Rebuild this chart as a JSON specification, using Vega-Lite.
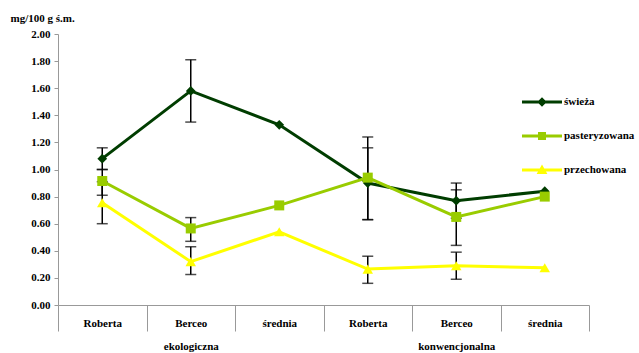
{
  "$schema": "https://vega.github.io/schema/vega-lite/v6.json",
  "width": 531,
  "height": 271,
  "autosize": "none",
  "padding": {"left": 58, "top": 34, "right": 50, "bottom": 48},
  "background": "white",
  "config": {
    "view": {"stroke": null},
    "font": "Liberation Serif",
    "axis": {
      "labelFont": "Liberation Serif",
      "labelFontWeight": "bold",
      "labelFontSize": 11,
      "labelColor": "black",
      "titleFont": "Liberation Serif",
      "titleFontWeight": "bold",
      "titleFontSize": 11,
      "titleColor": "black",
      "domainColor": "#999999",
      "tickColor": "#999999",
      "grid": false
    },
    "legend": {
      "labelFont": "Liberation Serif",
      "labelFontWeight": "bold",
      "labelFontSize": 11,
      "labelColor": "black"
    }
  },
  "data": {
    "values": [
      {"kat": "ekologiczna|Roberta", "seria": "świeża", "v": 1.08, "lo": 1.00, "hi": 1.16},
      {"kat": "ekologiczna|Berceo", "seria": "świeża", "v": 1.58, "lo": 1.35, "hi": 1.81},
      {"kat": "ekologiczna|średnia", "seria": "świeża", "v": 1.33},
      {"kat": "konwencjonalna|Roberta", "seria": "świeża", "v": 0.90, "lo": 0.63, "hi": 1.16},
      {"kat": "konwencjonalna|Berceo", "seria": "świeża", "v": 0.77, "lo": 0.64, "hi": 0.90},
      {"kat": "konwencjonalna|średnia", "seria": "świeża", "v": 0.84},
      {"kat": "ekologiczna|Roberta", "seria": "pasteryzowana", "v": 0.915, "lo": 0.81, "hi": 1.00},
      {"kat": "ekologiczna|Berceo", "seria": "pasteryzowana", "v": 0.565, "lo": 0.47, "hi": 0.645},
      {"kat": "ekologiczna|średnia", "seria": "pasteryzowana", "v": 0.735},
      {"kat": "konwencjonalna|Roberta", "seria": "pasteryzowana", "v": 0.94, "lo": 0.63, "hi": 1.24},
      {"kat": "konwencjonalna|Berceo", "seria": "pasteryzowana", "v": 0.65, "lo": 0.44, "hi": 0.85},
      {"kat": "konwencjonalna|średnia", "seria": "pasteryzowana", "v": 0.80},
      {"kat": "ekologiczna|Roberta", "seria": "przechowana", "v": 0.755, "lo": 0.60, "hi": 0.91},
      {"kat": "ekologiczna|Berceo", "seria": "przechowana", "v": 0.32, "lo": 0.225, "hi": 0.43},
      {"kat": "ekologiczna|średnia", "seria": "przechowana", "v": 0.54},
      {"kat": "konwencjonalna|Roberta", "seria": "przechowana", "v": 0.265, "lo": 0.16, "hi": 0.36},
      {"kat": "konwencjonalna|Berceo", "seria": "przechowana", "v": 0.29, "lo": 0.19, "hi": 0.39},
      {"kat": "konwencjonalna|średnia", "seria": "przechowana", "v": 0.275}
    ]
  },
  "encoding": {
    "x": {
      "field": "kat",
      "type": "nominal",
      "sort": null,
      "scale": {"paddingInner": 0, "paddingOuter": 0},
      "axis": {
        "title": null,
        "labelAngle": 0,
        "tickBand": "extent",
        "tickSize": 26,
        "labelPadding": -14,
        "labelBaseline": "top",
        "labelLineHeight": 23,
        "labelExpr": "split(datum.value, '|')[1] === 'Berceo' ? ['Berceo', split(datum.value, '|')[0]] : split(datum.value, '|')[1]",
        "encode": {
          "ticks": {
            "update": {
              "y2": {"signal": "(datum.index === -1 || datum.value === 'ekologiczna|średnia' || datum.value === 'konwencjonalna|średnia') ? 60 : 26"}
            }
          }
        }
      }
    },
    "y": {
      "field": "v",
      "type": "quantitative",
      "scale": {"domain": [0, 2], "nice": false},
      "axis": {
        "title": "mg/100 g ś.m.",
        "titleAngle": 0,
        "titleAlign": "left",
        "titleBaseline": "middle",
        "titleX": -48,
        "titleY": -16,
        "values": [0, 0.2, 0.4, 0.6, 0.8, 1.0, 1.2, 1.4, 1.6, 1.8, 2.0],
        "format": ".2f",
        "tickSize": 4,
        "labelPadding": 4
      }
    }
  },
  "layer": [
    {
      "mark": {"type": "line", "strokeWidth": 3},
      "encoding": {
        "color": {
          "field": "seria",
          "type": "nominal",
          "sort": ["świeża", "pasteryzowana", "przechowana"],
          "scale": {
            "domain": ["świeża", "pasteryzowana", "przechowana"],
            "range": ["#003d00", "#99cc00", "#ffff00"]
          },
          "legend": {
            "title": null,
            "orient": "none",
            "legendX": 464,
            "legendY": 48,
            "symbolSize": 1600,
            "symbolStrokeWidth": 0,
            "labelOffset": 2,
            "rowPadding": 9,
            "encode": {
              "symbols": {
                "update": {
                  "fill": {"scale": "color", "field": "value"},
                  "size": {"value": 1600},
                  "strokeWidth": {"value": 0},
                  "shape": {"signal": "datum.value === 'świeża' ? 'M-1,-0.075L1,-0.075L1,0.075L-1,0.075Z M0,-0.24L0.24,0L0,0.24L-0.24,0Z' : datum.value === 'pasteryzowana' ? 'M-1,-0.075L1,-0.075L1,0.075L-1,0.075Z M-0.2,-0.2L0.2,-0.2L0.2,0.2L-0.2,0.2Z' : 'M-1,-0.075L1,-0.075L1,0.075L-1,0.075Z M0,-0.27L0.27,0.2L-0.27,0.2Z'"}
                }
              }
            }
          }
        }
      }
    },
    {
      "transform": [{"filter": "isValid(datum.lo)"}],
      "mark": {"type": "rule", "color": "black", "strokeWidth": 1.5},
      "encoding": {
        "y": {"field": "lo", "type": "quantitative"},
        "y2": {"field": "hi"}
      }
    },
    {
      "transform": [{"filter": "isValid(datum.lo)"}],
      "mark": {"type": "tick", "color": "black", "thickness": 1.5, "size": 11, "orient": "horizontal"},
      "encoding": {"y": {"field": "lo", "type": "quantitative"}}
    },
    {
      "transform": [{"filter": "isValid(datum.lo)"}],
      "mark": {"type": "tick", "color": "black", "thickness": 1.5, "size": 11, "orient": "horizontal"},
      "encoding": {"y": {"field": "hi", "type": "quantitative"}}
    },
    {
      "transform": [{"filter": "datum.seria === 'świeża'"}],
      "mark": {"type": "point", "filled": true, "opacity": 1, "size": 95, "shape": "diamond", "color": "#003d00"},
      "encoding": {}
    },
    {
      "transform": [{"filter": "datum.seria === 'pasteryzowana'"}],
      "mark": {"type": "point", "filled": true, "opacity": 1, "size": 100, "shape": "square", "color": "#99cc00"},
      "encoding": {}
    },
    {
      "transform": [{"filter": "datum.seria === 'przechowana'"}],
      "mark": {"type": "point", "filled": true, "opacity": 1, "size": 110, "shape": "triangle-up", "color": "#ffff00"},
      "encoding": {}
    }
  ]
}
